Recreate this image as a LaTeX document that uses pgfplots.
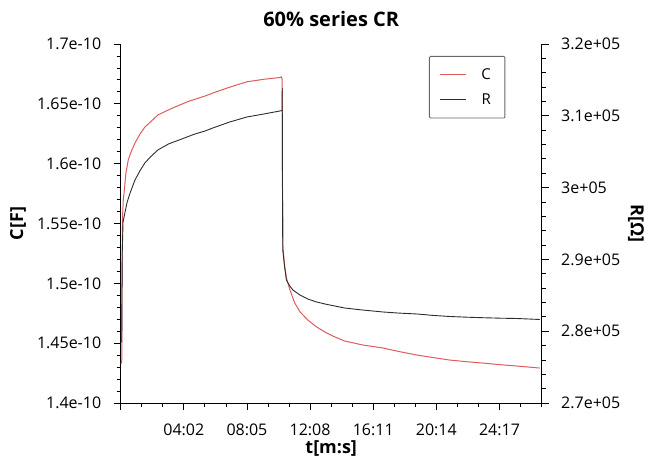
\documentclass[border=0pt]{standalone}
\usepackage{fontspec}
\setmainfont{Open Sans}
\usepackage{pgfplots}
\pgfplotsset{compat=1.18}
\definecolor{cred}{RGB}{222,92,92}
\definecolor{rgray}{RGB}{45,45,45}

\begin{document}
\begin{tikzpicture}[font=\fontsize{16}{19}\selectfont]
\pgfplotsset{
  every axis/.append style={
    scale only axis, width=421pt, height=359pt,
    at={(0pt,0pt)}, anchor=south west,
    xmin=0, xmax=1618.5,
    tick align=outside,
    major tick length=7pt, minor tick length=4pt,
    tick style={black, line width=0.8pt},
    axis line style={black, line width=0.8pt},
    scaled y ticks=false,
    /pgf/number format/assume math mode=true,
  }
}
\begin{axis}[
  axis x line*=bottom, axis y line*=left,
  ymin=1.4e-10, ymax=1.7e-10,
  ytick={1.4e-10,1.45e-10,1.5e-10,1.55e-10,1.6e-10,1.65e-10,1.7e-10},
  yticklabels={1.4e-10,1.45e-10,1.5e-10,1.55e-10,1.6e-10,1.65e-10,1.7e-10},
  yticklabel style={xshift=-9pt},
  minor y tick num=4,
  xtick={0,242.7,485.4,728.1,970.8,1213.5,1456.2},
  xticklabels={,04:02,08:05,12:08,16:11,20:14,24:17},
  xticklabel style={yshift=-10pt},
  minor xtick={80.9,161.8,323.6,404.5,566.3,647.2,809,889.9,1051.7,1132.6,1294.4,1375.3,1537.1,1618},
  xlabel={\textbf{t[m:s]}}, ylabel={\textbf{C[F]}},
  every axis x label/.style={at={(axis description cs:0.5,0)}, anchor=center,
    yshift=-46pt, font=\fontsize{18}{21}\selectfont},
  every axis y label/.style={at={([xshift=-102.7pt]axis description cs:0,0.5)},
    anchor=center, rotate=90, font=\fontsize{18}{21}\selectfont},
  title={\textbf{60\% series CR}},
  every axis title/.style={at={(axis description cs:0.5,1)}, anchor=center,
    yshift=25pt, font=\fontsize{20}{24}\selectfont},
]
\addplot[cred, line width=1pt] coordinates {
(0,1.4334e-10) (4,1.4334e-10) (5,1.50e-10) (7,1.555e-10) (10,1.570e-10)
(13,1.5755e-10) (20,1.592e-10) (29,1.603e-10) (40,1.610e-10) (55,1.6173e-10)
(75,1.625e-10) (93,1.6306e-10) (115,1.635e-10) (143,1.6407e-10) (175,1.644e-10)
(209,1.6474e-10) (260,1.652e-10) (324,1.6565e-10) (354,1.6590e-10) (420,1.664e-10)
(485,1.6684e-10) (550,1.6705e-10) (612,1.672e-10) (618,1.6725e-10) (621,1.670e-10)
(622,1.58e-10) (624,1.53e-10) (630,1.515e-10) (637,1.5045e-10) (650,1.495e-10)
(669,1.4836e-10) (690,1.476e-10) (719,1.4694e-10) (750,1.464e-10) (785,1.4593e-10)
(820,1.4555e-10) (861,1.4518e-10) (930,1.4485e-10) (1007,1.446e-10) (1070,1.443e-10)
(1138,1.4401e-10) (1200,1.438e-10) (1264,1.4359e-10) (1330,1.4345e-10) (1391,1.4334e-10)
(1460,1.432e-10) (1522,1.4309e-10) (1570,1.430e-10) (1611,1.4292e-10)
};
\end{axis}
\begin{axis}[
  axis x line=none, axis y line*=right,
  ymin=270000, ymax=320000,
  ytick={270000,280000,290000,300000,310000,320000},
  yticklabels={2.7e+05,2.8e+05,2.9e+05,3e+05,3.1e+05,3.2e+05},
  yticklabel style={xshift=9pt},
  minor y tick num=4,
  ylabel={\textbf{R[Ω]}},
  every axis y label/.style={at={([xshift=94.3pt]axis description cs:1,0.5)},
    anchor=center, rotate=-90, font=\fontsize{18}{21}\selectfont},
  legend style={at={(0.7323,0.9666)}, anchor=north west,
    draw=gray!80!black, line width=0.9pt, rounded corners=1pt,
    inner xsep=10pt, inner ysep=10pt, row sep=9pt, column sep=11pt,
    font=\fontsize{15}{18}\selectfont,
    nodes={inner xsep=4pt, inner ysep=2pt}},
  legend image code/.code={\draw[#1] (0pt,0pt) -- (26pt,0pt);},
]
\addlegendimage{cred, line width=1pt}
\addlegendentry{C}
\addplot[rgray, line width=0.9pt] coordinates {
(0,278500) (4,278500) (5,285000) (6,291000) (9,295200) (16,296460) (25,298000)
(36,299250) (55,301060) (75,302400) (93,303430) (115,304300) (143,305240)
(185,306100) (235,306770) (280,307400) (324,307880) (354,308300) (420,309150)
(485,309830) (550,310250) (612,310670) (620,310740) (621,313870) (622,300000)
(623,291300) (630,289000) (637,287130) (650,286300) (662,285740) (689,285040)
(719,284490) (750,284100) (785,283790) (861,283230) (930,282950) (1007,282680)
(1070,282520) (1138,282400) (1200,282200) (1264,282050) (1330,281950)
(1391,281880) (1460,281810) (1522,281770) (1611,281630)
};
\addlegendentry{R}
\end{axis}
\pgfresetboundingbox
\path (-120.7pt,-59pt) rectangle (530.3pt,403pt);
\end{tikzpicture}
\end{document}
